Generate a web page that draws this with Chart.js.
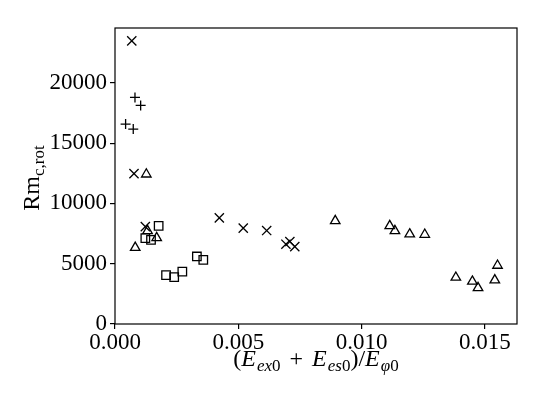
<!DOCTYPE html>
<html>
<head>
<meta charset="UTF-8">
<title>Rm scatter</title>
<script src="https://cdn.jsdelivr.net/npm/chart.js@4.4.0/dist/chart.umd.min.js"></script>
<style>
  body { margin: 0; background: #fff; }
</style>
</head>
<body>
<canvas id="c" width="545" height="409"></canvas>
<script>
// values
const plusX = [0.00081, 0.00104, 0.00043, 0.00074];
const plusY = [18790, 18130, 16580, 16170];

const crossX = [0.00068, 0.00077, 0.00123, 0.00423, 0.0052, 0.00615, 0.00693, 0.00709, 0.00729];
const crossY = [23480, 12470, 8080, 8800, 7950, 7750, 6620, 6840, 6420];

const triX = [0.00127, 0.00132, 0.00169, 0.00082, 0.00893, 0.01114, 0.01135, 0.01195, 0.01256,
              0.01382, 0.01449, 0.01472, 0.01551, 0.0154];
const triY = [12420, 7720, 7140, 6340, 8550, 8140, 7720, 7450, 7420,
              3860, 3530, 3000, 4850, 3640];

const sqX = [0.00177, 0.00123, 0.00146, 0.00207, 0.0024, 0.00273, 0.00332, 0.00358];
const sqY = [8140, 7120, 6980, 4060, 3890, 4350, 5600, 5320];

const xTicks = [0, 0.005, 0.010, 0.015];
const yTicks = [0, 5000, 10000, 15000, 20000];

const pts = (xs, ys) => xs.map((x, i) => ({x: x, y: ys[i]}));

const FONT = '"Liberation Serif", "DejaVu Serif", serif';

function set(label, data, style, r) {
  return {
    label: label, data: data, pointStyle: style, pointRadius: r,
    borderColor: '#000', backgroundColor: 'rgba(0,0,0,0)',
    pointBorderWidth: 1.3, showLine: false
  };
}

// draws text with subscripts, centred on (cx, cy); g = extra gap after a part
function rich(ctx, parts, cx, cy, rot) {
  const big = 24, small = 17;
  const fontOf = p => (p.i ? 'italic ' : '') + (p.s ? small : big) + 'px ' + FONT;
  let w = 0;
  parts.forEach(p => { ctx.font = fontOf(p); w += ctx.measureText(p.t).width + (p.g || 0); });
  ctx.save();
  ctx.translate(cx, cy);
  if (rot) ctx.rotate(rot);
  ctx.fillStyle = '#000';
  ctx.textBaseline = 'alphabetic';
  ctx.textAlign = 'left';
  let x = -w / 2;
  parts.forEach(p => {
    ctx.font = fontOf(p);
    ctx.fillText(p.t, x, p.s ? 5 : 0);
    x += ctx.measureText(p.t).width + (p.g || 0);
  });
  ctx.restore();
}

const frame = {
  id: 'frame',
  afterDraw(chart) {
    const ctx = chart.ctx, a = chart.chartArea;
    ctx.save();
    ctx.strokeStyle = '#000';
    ctx.lineWidth = 1.2;
    ctx.strokeRect(a.left, a.top, a.right - a.left, a.bottom - a.top);
    ctx.restore();

    rich(ctx, [
      {t: '('}, {t: 'E', i: 1, g: 1}, {t: 'ex', i: 1, s: 1}, {t: '0', s: 1, g: 3},
      {t: ' + ', g: 3}, {t: 'E', i: 1, g: 1}, {t: 'es', i: 1, s: 1}, {t: '0', s: 1},
      {t: ')/'}, {t: 'E', i: 1, g: 1}, {t: 'φ', i: 1, s: 1}, {t: '0', s: 1}
    ], (a.left + a.right) / 2, 366);

    rich(ctx, [{t: 'Rm'}, {t: 'c,rot', s: 1}], 39, (a.top + a.bottom) / 2 + 2, -Math.PI / 2);
  }
};

new Chart(document.getElementById('c'), {
  type: 'scatter',
  data: {
    datasets: [
      set('plus', pts(plusX, plusY), 'cross', 5),
      set('x', pts(crossX, crossY), 'crossRot', 6.5),
      set('tri', pts(triX, triY), 'triangle', 5.5),
      set('sq', pts(sqX, sqY), 'rect', 6)
    ]
  },
  options: {
    responsive: false,
    animation: false,
    layout: { padding: { top: 28, right: 28, left: 0, bottom: 0 } },
    plugins: { legend: { display: false }, tooltip: { enabled: false } },
    scales: {
      x: {
        type: 'linear', min: 0, max: 0.0163,
        afterFit: s => { s.height = 85; },
        afterBuildTicks: s => { s.ticks = xTicks.map(v => ({value: v})); },
        border: { display: false },
        grid: { drawOnChartArea: false, drawTicks: true, tickLength: 5, color: '#000', lineWidth: 1.2 },
        ticks: { color: '#000', padding: 0, font: { family: FONT, size: 23 }, maxRotation: 0,
                 callback: v => v.toFixed(3) }
      },
      y: {
        type: 'linear', min: 0, max: 24550,
        afterFit: s => { s.width = 115; },
        afterBuildTicks: s => { s.ticks = yTicks.map(v => ({value: v})); },
        border: { display: false },
        grid: { drawOnChartArea: false, drawTicks: true, tickLength: 5, color: '#000', lineWidth: 1.2 },
        ticks: { color: '#000', padding: 3, font: { family: FONT, size: 23 },
                 callback: v => String(v) }
      }
    }
  },
  plugins: [frame]
});
</script>
</body>
</html>
